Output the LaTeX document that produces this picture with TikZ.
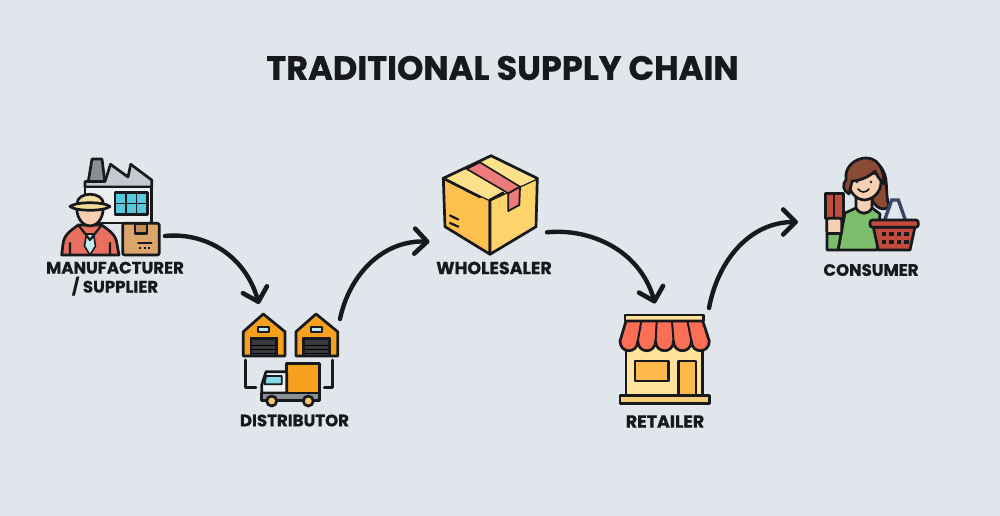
\documentclass[tikz,border=0pt]{standalone}
\usepackage{fontspec}
\setmainfont{Poppins}[BoldFeatures={FakeBold=0.8}]
\usetikzlibrary{arrows.meta}
\definecolor{bgc}{HTML}{E1E6EC}
\definecolor{inkc}{HTML}{17191C}
\definecolor{greyA}{HTML}{8A8F96}
\definecolor{greyB}{HTML}{C4C9CF}
\definecolor{wallc}{HTML}{EDEFF1}
\definecolor{cyanc}{HTML}{58C8DC}
\definecolor{hatc}{HTML}{F3DE9B}
\definecolor{skinc}{HTML}{F7CFB2}
\definecolor{redc}{HTML}{E8705F}
\definecolor{tanc}{HTML}{DBA56C}
\definecolor{tandk}{HTML}{C48B52}
\definecolor{orangec}{HTML}{F7A01F}
\definecolor{doorc}{HTML}{3A3A3C}
\definecolor{boxtop}{HTML}{FCE08A}
\definecolor{boxleft}{HTML}{FBC04E}
\definecolor{boxright}{HTML}{FDD36B}
\definecolor{tapec}{HTML}{EC7B7B}
\definecolor{awnc}{HTML}{FB6F57}
\definecolor{shopc}{HTML}{FFE39A}
\definecolor{shopd}{HTML}{FFB84A}
\definecolor{hairc}{HTML}{8B4A33}
\definecolor{greenc}{HTML}{7DBE6E}
\definecolor{basketc}{HTML}{C24B3D}
\definecolor{navyc}{HTML}{39446A}
\tikzset{
  ink/.style={draw=inkc,line width=2.7pt,line join=round,line cap=round},
  iconbox/.style={inner sep=0pt,outer sep=0pt,minimum width=#1},
  titletext/.style={inner sep=0pt,font=\fontsize{33.6}{36}\selectfont\bfseries,text=inkc},
  labeltext/.style={inner sep=0pt,align=center,font=\fontsize{16.6}{19}\selectfont\bfseries,text=inkc},
  labelwide/.style={labeltext,font=\fontsize{17.5}{19}\selectfont\bfseries},
  flowarrow/.style={draw=inkc,line width=4.4pt,line cap=round,-{Straight Barb[length=12.5pt,width=25pt,line width=4.6pt,round]}}
}
\begin{document}
\begin{tikzpicture}[x=1pt,y=-1pt]
\useasboundingbox (0,0) rectangle (1000,516);
\fill[bgc] (0,0) rectangle (1000,516);
\node[titletext] (title) at (502.5,68) {TRADITIONAL SUPPLY CHAIN};

% ---------- manufacturer
\node[iconbox=105pt,minimum height=99pt] (mfr) at (112.5,206.5) {};
\filldraw[ink,fill=greyA] (88,183)--(92,159)--(102,159)--(105,183)--cycle;
\filldraw[ink,fill=greyB] (105,181.5)--(110.5,164.3)--(128,177)--(130.7,164.3)--(151.7,180)--(151.7,187)--(85,187)--(85,181.5)--cycle;
\filldraw[ink,fill=wallc] (85,187) rectangle (151.7,223);
\filldraw[ink,fill=cyanc] (115,192.7) rectangle (147.3,214.3);
\draw[ink,line width=1.8pt] (125.8,192.7)--(125.8,214.3) (136.5,192.7)--(136.5,214.3) (115,203.5)--(147.3,203.5);
\filldraw[ink,fill=redc] (61.7,255)--(63,244) .. controls (64,235) and (70,231) .. (78.3,225)--(101.7,225) .. controls (110,231) and (116,235) .. (117,244)--(119,255)--cycle;
\filldraw[ink,line width=1.6pt,fill=cyanc!35!white] (86.5,234)--(93.5,234)--(95.5,246)--(90,255)--(84.5,246)--cycle;
\draw[ink,line width=2.2pt] (78.3,225)--(90,240)--(101.7,225) (70,255)--(70,243) (110,255)--(110,243);
\filldraw[ink,fill=skinc] (76.7,208) .. controls (77,220) and (84,226) .. (90,226) .. controls (96,226) and (103,220) .. (103.3,208)--cycle;
\filldraw[ink,fill=hatc] (77,204) .. controls (77,191) and (103,191) .. (103.5,204)--cycle;
\filldraw[ink,fill=hatc] (70,206.5) .. controls (76,201.5) and (104,201.5) .. (110,206.5) .. controls (104,211.5) and (76,211.5) .. (70,206.5)--cycle;
\filldraw[ink,fill=tanc,rounded corners=2pt] (122.7,223.3) rectangle (159.3,255);
\filldraw[ink,fill=tandk] (135,223.3) rectangle (147,233.5);
\draw[ink,line width=1.8pt] (138,242.7)--(151.7,242.7);
\draw[inkc,line width=2pt,dash pattern=on 2pt off 2.6pt] (139,248.3)--(152,248.3);

% ---------- distributor
\node[iconbox=100pt,minimum height=102pt] (dist) at (290,355) {};
\foreach \dx in {0,52.7}{
\begin{scope}[xshift=\dx pt]
\filldraw[ink,fill=orangec] (263.3,314)--(285,331.7)--(285,356)--(243.3,356)--(243.3,331.7)--cycle;
\filldraw[ink,line width=2pt,fill=cyanc!40!white] (257.8,326.5) rectangle (268.8,331.5);
\filldraw[ink,fill=doorc] (251,338) rectangle (276.5,356);
\draw[inkc,line width=3.4pt] (250,338.5)--(277.5,338.5);
\draw[black,line width=.8pt] (252,345)--(275.5,345) (252,349)--(275.5,349) (252,353)--(275.5,353);
\end{scope}}
\draw[ink] (245.7,360)--(245.7,387.3)--(256,387.3);
\draw[ink] (332.7,360)--(332.7,387.3)--(324.3,387.3);
\filldraw[ink,fill=orangec] (286.7,363.3) rectangle (319.3,393);
\filldraw[ink,fill=wallc] (261.7,393)--(261.7,385)--(266,371.7)--(286.7,371.7)--(286.7,393)--cycle;
\filldraw[ink,line width=1.8pt,fill=cyanc!70!white] (266,376)--(281.7,376)--(281.7,384.3)--(264.5,384.3)--cycle;
\filldraw[ink,fill=greyA] (261.7,393) rectangle (319.3,400.5);
\filldraw[ink,fill=hatc!60!orangec] (271.7,401) circle (5);
\filldraw[ink,fill=hatc!60!orangec] (308.3,401) circle (5);

% ---------- wholesaler
\node[iconbox=117.5pt,minimum height=100pt] (whole) at (488.25,205) {};
\filldraw[ink,fill=boxleft] (443.3,178.3)--(490,200)--(490,254.3)--(445,226.7)--cycle;
\filldraw[ink,fill=boxright] (537.3,178.3)--(490,200)--(490,254.3)--(536,226.7)--cycle;
\fill[boxtop] (491,155.7)--(537.3,178.3)--(490,200)--(443.3,178.3)--cycle;
\fill[tapec] (466.7,169)--(480,162.3)--(520,186.7)--(508.3,193.3)--cycle;
\filldraw[ink,line width=1.8pt,fill=tapec] (508.3,193.3)--(520,186.7)--(519.3,205)--(508.3,211)--cycle;
\draw[ink] (443.3,178.3)--(491,155.7)--(537.3,178.3);
\draw[ink] (443.3,178.3)--(480,197) (490,200)--(503,193);
\draw[ink,line width=1.6pt] (466.7,169)--(480,162.3) (466.7,169)--(508.3,193.3) (480,162.3)--(520,186.7);
\draw[ink,line width=2.2pt] (450,215.5)--(458.3,219.5) (450,223)--(458.3,226.7);

% ---------- retailer
\node[iconbox=91pt,minimum height=100.5pt] (retail) at (664.5,353.75) {};
\filldraw[ink,fill=shopc] (626,345) rectangle (702.7,396);
\filldraw[ink,fill=shopd] (635,361) rectangle (668.3,381);
\filldraw[ink,fill=shopd] (678.3,361) rectangle (696,396);
\filldraw[ink,fill=hatc!70!orangec] (620,395.7) rectangle (709.3,403.3);
\filldraw[ink,fill=shopc] (625,315) rectangle (703.3,321);
\filldraw[ink,fill=awnc] (626,321)--(702.7,321)--(709.3,341)
  .. controls (709.3,354) and (691.4,354) .. (691.4,341)
  .. controls (691.4,354) and (673.5,354) .. (673.5,341)
  .. controls (673.5,354) and (655.6,354) .. (655.6,341)
  .. controls (655.6,354) and (637.8,354) .. (637.8,341)
  .. controls (637.8,354) and (620,354) .. (620,341)--cycle;
\draw[ink,line width=2pt] (641.3,321)--(637.8,341) (656.7,321)--(655.6,341) (672,321)--(673.5,341) (687.4,321)--(691.4,341);

% ---------- consumer
\node[iconbox=122pt,minimum height=94pt] (cons) at (859,204) {};
\filldraw[ink,fill=hairc] (880,166) .. controls (890,178) and (884,190) .. (889,206) .. controls (884,212) and (876,208) .. (872,200)--cycle;
\filldraw[ink,fill=greenc] (838,250)--(845,213)--(856,208)--(872,208)--(880,214)--(877,250)--cycle;
\filldraw[ink,fill=skinc] (856,194)--(856,208) .. controls (860,215) and (868,215) .. (872,208)--(872,194)--cycle;
\filldraw[ink,fill=skinc] (849,178)--(849,186) .. controls (851,195) and (859,200) .. (864,200) .. controls (871,200) and (881,194) .. (881,182)--(881,172)--cycle;
\filldraw[ink,fill=hairc] (849,194) .. controls (843,191) and (842,184) .. (846,180) .. controls (844,166) and (856,158) .. (866,158) .. controls (876,158) and (884,166) .. (884,184) .. controls (880,180) and (877,176) .. (875,171) .. controls (868,178) and (858,181) .. (852,181) .. controls (851,186) and (850,190) .. (849,194)--cycle;
\draw[ink,line width=1.6pt] (858,189) .. controls (861,193) and (866,193) .. (869,189);
\fill[inkc] (857,182) circle (1.3) (871,182) circle (1.3);
\filldraw[ink,fill=basketc] (825.3,193.3) rectangle (843.3,218.3);
\draw[ink,line width=1.8pt] (834,193.3)--(834,218.3);
\filldraw[ink,fill=skinc,rounded corners=2pt] (826.7,218.3) rectangle (841.7,233.5);
\filldraw[ink,fill=greenc] (827,233.5)--(841,233.5)--(838,250)--(827,250)--cycle;
\draw[navyc,line width=3.4pt,line cap=round] (885,219)--(891.7,200)--(898.3,200)--(905,219);
\filldraw[ink,fill=basketc] (873.3,227)--(915,227)--(910,250)--(878.3,250)--cycle;
\filldraw[ink,fill=basketc,rounded corners=2.5pt] (870,220) rectangle (918.3,227.3);
\foreach \hx in {881.7,889.2,896.7,904.2}{
  \fill[inkc] (\hx,231.5) rectangle +(4.5,4.5);
  \fill[inkc] (\hx,239.5) rectangle +(4.5,4.5);
}

% ---------- labels
\node[labeltext] (lmfr) at (115,278.7) {MANUFACTURER\\/ SUPPLIER};
\node[labeltext] (ldist) at (294.5,420.5) {DISTRIBUTOR};
\node[labelwide] (lwhole) at (494,268) {WHOLESALER};
\node[labelwide] (lretail) at (665,421.5) {RETAILER};
\node[labeltext] (lcons) at (871,270) {CONSUMER};

% ---------- connectors
\draw[flowarrow] ([yshift=-29.5pt]mfr.east) .. controls (205,232) and (245,255) .. ([xshift=-31pt]dist.north);
\draw[flowarrow] ([yshift=36pt]dist.east) .. controls (350,272) and (385,240) .. ([yshift=-36.7pt]whole.west);
\draw[flowarrow] ([yshift=-27.3pt]whole.east) .. controls (590,228) and (640,250) .. ([xshift=-9.5pt]retail.north);
\draw[flowarrow] ([xshift=-1pt,yshift=45.75pt]retail.east) .. controls (718,260) and (750,222) .. ([yshift=-18pt]cons.west);
\end{tikzpicture}
\end{document}
